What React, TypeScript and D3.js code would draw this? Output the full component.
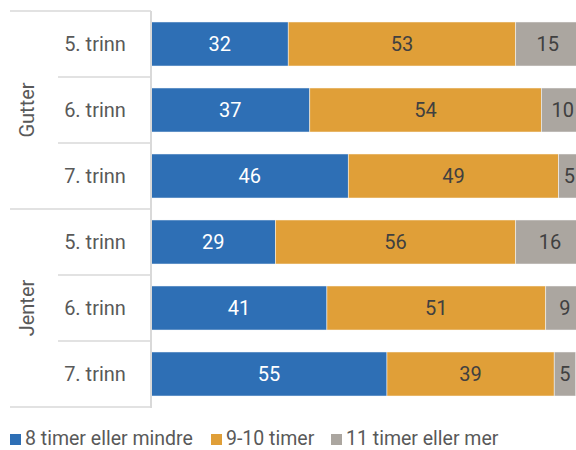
import React from "react";
import * as d3 from "d3";

const groups = ["Gutter", "Jenter"];
const grades = ["5. trinn", "6. trinn", "7. trinn"];
const seriesNames = ["8 timer eller mindre", "9-10 timer", "11 timer eller mer"];
const lowValues = [32, 37, 46, 29, 41, 55];
const midValues = [53, 54, 49, 56, 51, 39];
const highValues = [15, 10, 5, 16, 9, 5];
const colors = ["#2E6FB5", "#E09F38", "#ABA6A0"];
const labelColors = ["#ffffff", "#404040", "#404040"];

const W = 576;
const H = 450;
const FONT = "Roboto, 'Open Sans', sans-serif";

export default function App() {
  const rows = groups.flatMap((g, gi) => grades.map((gr, ri) => ({ key: `${g}-${gr}`, group: g, grade: gr, i: gi * 3 + ri })));
  const table = rows.map((r) => ({ key: r.key, low: lowValues[r.i], mid: midValues[r.i], high: highValues[r.i] }));
  const stack = d3.stack<any>().keys(["low", "mid", "high"])(table);

  const x = d3.scaleLinear().domain([0, 100]).range([151, 580]);
  const y = d3.scaleBand().domain(rows.map((r) => r.key)).range([11, 407]).paddingInner(0.333).paddingOuter(0.1665);
  const step = y.step();
  const top = 11;

  const legendX = [10, 211, 331];

  return (
    <svg width={W} height={H} style={{ position: "absolute", left: 0, top: 0 }} fontFamily={FONT}>
      <rect width={W} height={H} fill="#fff" />
      {stack.map((s, si) =>
        s.map((d, di) => {
          const r = rows[di];
          const x0 = x(d[0]);
          const x1 = x(d[1]);
          const v = d[1] - d[0];
          return (
            <g key={`${si}-${di}`}>
              <rect x={x0} y={y(r.key)} width={x1 - x0} height={y.bandwidth()} fill={colors[si]} stroke="#ffffff" strokeWidth={0.8} strokeOpacity={0.6} />
              <text x={(x0 + x1) / 2} y={y(r.key)! + y.bandwidth() / 2} dy="0.35em" textAnchor="middle" fontSize={20} fill={labelColors[si]}>
                {v}
              </text>
            </g>
          );
        })
      )}
      {/* axis lines */}
      <line x1={151} x2={151} y1={top} y2={408} stroke="#D9D9D9" strokeWidth={2} />
      {d3.range(0, 7).map((k) => {
        const yy = top + k * step;
        const full = k % 3 === 0;
        return <line key={k} x1={full ? 10 : 58} x2={151} y1={yy} y2={yy} stroke="#D9D9D9" strokeWidth={1.5} />;
      })}
      {rows.map((r) => (
        <text key={r.key} x={95} y={y(r.key)! + y.bandwidth() / 2} dy="0.35em" textAnchor="middle" fontSize={20} fill="#595959">
          {r.grade}
        </text>
      ))}
      {groups.map((g, gi) => {
        const cy = top + step * (gi * 3 + 1.5);
        return (
          <text key={g} transform={`translate(27,${cy}) rotate(-90)`} dy="0.35em" textAnchor="middle" fontSize={20} fill="#595959">
            {g}
          </text>
        );
      })}
      {seriesNames.map((n, i) => (
        <g key={n} transform={`translate(${legendX[i]},439)`}>
          <rect x={0} y={-5} width={11} height={11} fill={colors[i]} />
          <text x={15} y={6} fontSize={19.5} fill="#595959">
            {n}
          </text>
        </g>
      ))}
    </svg>
  );
}
